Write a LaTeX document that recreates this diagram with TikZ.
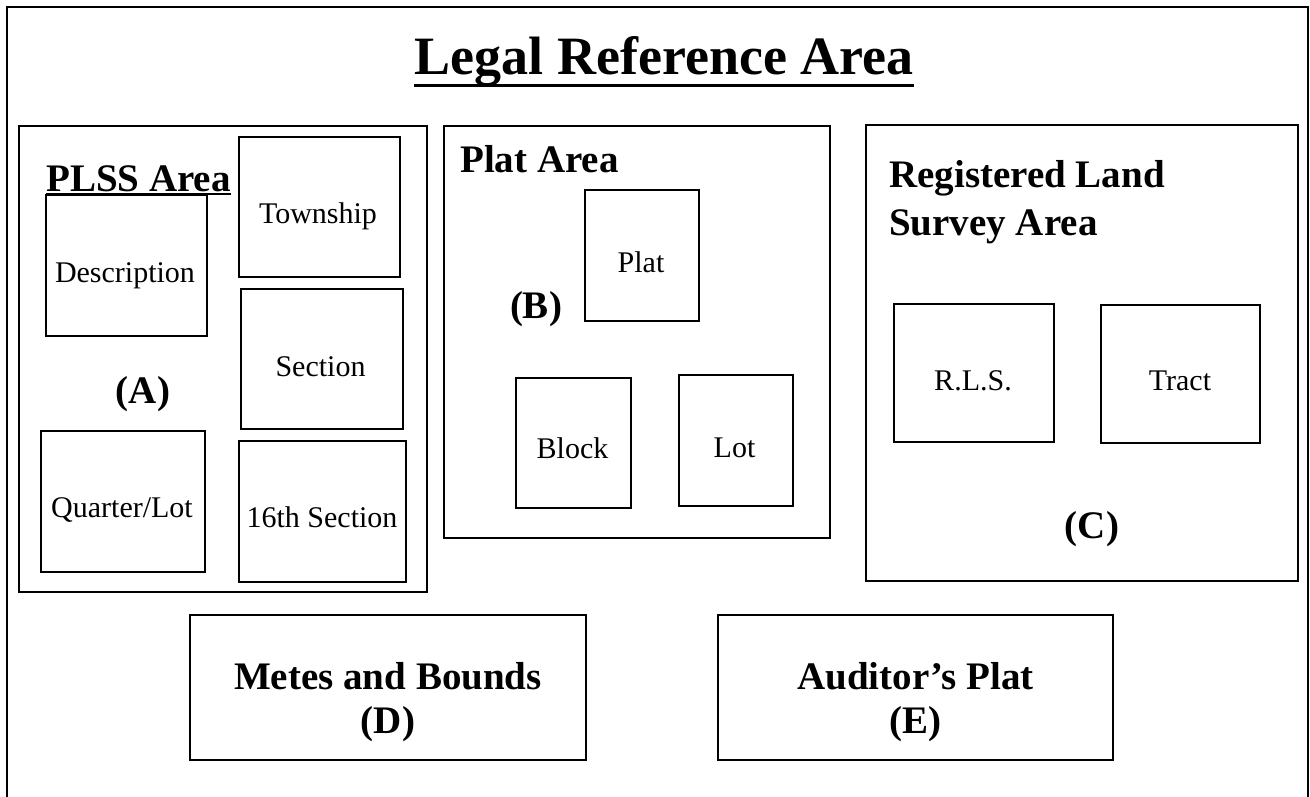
\documentclass[tikz,border=0pt]{standalone}
\usepackage{fontspec}
\setmainfont{Liberation Serif}
\begin{document}
\begin{tikzpicture}[x=1pt,y=-1pt,
  area/.style={draw, line width=1.8pt, inner sep=0pt, outer sep=0pt},
  cell/.style={draw, line width=1.5pt, inner sep=0pt, outer sep=0pt},
  txt/.style={inner sep=0pt, anchor=base, font=\fontsize{30}{36}\selectfont},
  head/.style={inner sep=0pt, anchor=base, font=\fontsize{39}{47}\selectfont\bfseries},
  titlefont/.style={inner sep=0pt, anchor=base, font=\fontsize{54}{60}\selectfont\bfseries},
]
\useasboundingbox (0,0) rectangle (1310,797);

% outer frame (open at the bottom)
\coordinate (fbl) at (7,800);
\coordinate (ftl) at (7,7);
\coordinate (ftr) at (1308,7);
\coordinate (fbr) at (1308,800);
\draw[line width=2pt] (fbl) -- (ftl) -- (ftr) -- (fbr);

% title
\node[titlefont] (title) at (664,75) {Legal Reference Area};
\draw[line width=3.5pt] ([yshift=-10.5pt]title.base west) -- ([yshift=-10.5pt]title.base east);

% PLSS area (A)
\node[area, minimum width=408pt, minimum height=466pt] (plss) at (223,359) {};
\node[head, anchor=base west] (plssT) at (46,192) {PLSS Area};
\node[cell, minimum width=161pt, minimum height=140pt] (township) at (319.5,207) {};
\node[cell, minimum width=162pt, minimum height=140pt] (section) at (322,359) {};
\node[cell, minimum width=167pt, minimum height=141pt] (sixteenth) at (322.5,511.5) {};
\node[cell, minimum width=161pt, minimum height=141pt] (descr) at (126.5,265.5) {};
\node[cell, minimum width=164pt, minimum height=141pt] (quarter) at (123,501.5) {};
\draw[line width=2pt] ([yshift=-2.5pt]plssT.base west) -- ([yshift=-2.5pt]plssT.base east);
\node[txt] (townshipT) at (318,223) {Township};
\node[txt] (descrT) at (125,282) {Description};
\node[txt] (sectionT) at (320.5,376) {Section};
\node[txt] (quarterT) at (122,517) {Quarter/Lot};
\node[txt] (sixteenthT) at (322,527) {16th Section};
\node[head] (labA) at (143,403) {(A)};

% Plat area (B)
\node[area, minimum width=386pt, minimum height=412pt] (platA) at (637,332) {};
\node[head, anchor=base west] (platAT) at (460,173) {Plat Area};
\node[cell, minimum width=114pt, minimum height=131pt] (plat) at (642,255.5) {};
\node[cell, minimum width=115pt, minimum height=130pt] (block) at (573.5,443) {};
\node[cell, minimum width=114pt, minimum height=131pt] (lot) at (736,440.5) {};
\node[txt] (platT) at (641,272) {Plat};
\node[txt] (blockT) at (572.5,458) {Block};
\node[txt] (lotT) at (734.5,457) {Lot};
\node[head] (labB) at (536,318) {(B)};

% Registered Land Survey area (C)
\node[area, minimum width=432pt, minimum height=456pt] (rlsA) at (1082,353) {};
\node[head, anchor=base west] (rlsAT1) at (889,188) {Registered Land};
\node[head, anchor=base west] (rlsAT2) at (889,235) {Survey Area};
\node[cell, minimum width=160pt, minimum height=138pt] (rls) at (974,373) {};
\node[cell, minimum width=159pt, minimum height=138pt] (tract) at (1180.5,374) {};
\node[txt] (rlsT) at (973,390) {R.L.S.};
\node[txt] (tractT) at (1180,390) {Tract};
\node[head] (labC) at (1092,538) {(C)};

% Metes and Bounds (D), Auditor's Plat (E)
\node[area, minimum width=396pt, minimum height=145pt] (metes) at (388,687.5) {};
\node[head] (metesT) at (388,689) {Metes and Bounds};
\node[head] (labD) at (388,733) {(D)};
\node[area, minimum width=395pt, minimum height=145pt] (aud) at (915.5,687.5) {};
\node[head] (audT) at (915.5,689) {Auditor’s Plat};
\node[head] (labE) at (915.5,733) {(E)};
\end{tikzpicture}
\end{document}
